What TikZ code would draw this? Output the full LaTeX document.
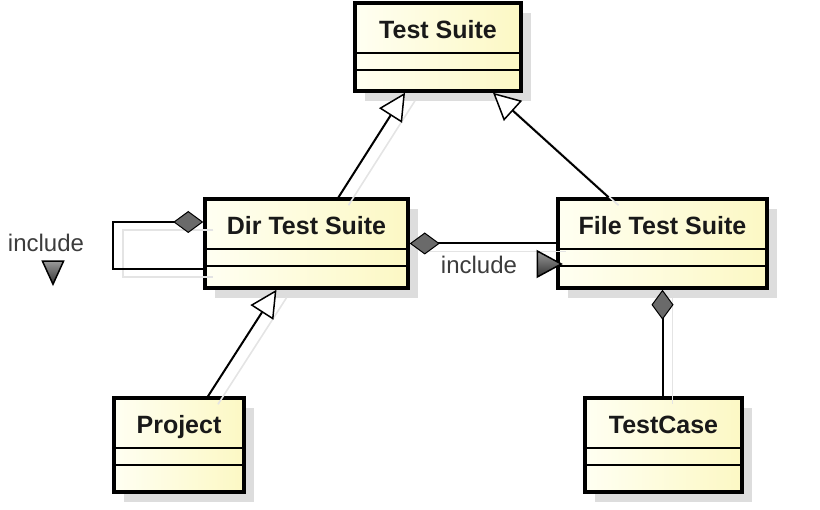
\documentclass[tikz,border=0pt]{standalone}
\usepackage{fontspec}
\setmainfont{Liberation Sans}
\usetikzlibrary{arrows.meta,positioning,shapes.geometric,shadows}
\definecolor{classlight}{HTML}{FFFFF2}
\definecolor{classdark}{HTML}{FCF8C4}
\definecolor{shadowgray}{HTML}{DDDDDD}
\definecolor{lineshadow}{HTML}{E4E4E4}
\definecolor{tipgray}{HTML}{6A6A6A}
\definecolor{labelgray}{HTML}{3C3C3C}

\begin{document}
\begin{tikzpicture}[x=1pt, y=-1pt,
  classbox/.style={draw=black, line width=3.5pt, left color=classlight, right color=classdark,
    inner sep=0pt, drop shadow={shadow xshift=10pt, shadow yshift=-10pt, fill=shadowgray, opacity=1}},
  classname/.style={font=\fontsize{25}{29}\selectfont\bfseries, anchor=base, text=black!90},
  divider/.style={line width=1.5pt},
  cshadow/.style={preaction={draw=lineshadow, line width=1.6pt, -, transform canvas={xshift=10pt, yshift=-8pt}}},
  inherit/.style={cshadow, line width=2pt, -{Triangle[length=27pt, width=27pt, fill=white, line width=1.5pt]}},
  compose/.style={cshadow, line width=2pt, {Diamond[length=30pt, width=22pt, fill=tipgray, line width=1pt]}-},
  assoclabel/.style={font=\fontsize{24}{28}\selectfont, anchor=base, text=labelgray},
  marker/.style={isosceles triangle, isosceles triangle stretches, inner sep=0pt, draw=black,
    line width=1.5pt, top color=black!40, bottom color=black!80}
]
  \useasboundingbox (0,0) rectangle (820,510);

  % classes (border centres measured on the reference)
  \node[classbox, minimum width=166pt, minimum height=88pt] (suite) at (438,47) {};
  \node[classbox, minimum width=203pt, minimum height=89pt] (dir) at (306.5,243.5) {};
  \node[classbox, minimum width=209pt, minimum height=89pt] (file) at (662.5,243.5) {};
  \node[classbox, minimum width=130pt, minimum height=94pt] (project) at (179,445) {};
  \node[classbox, minimum width=157pt, minimum height=94pt] (case) at (663.5,445) {};

  % name compartment and the two empty compartments
  \foreach \c/\t in {suite/Test Suite, dir/Dir Test Suite, file/File Test Suite,
                     project/Project, case/TestCase} {
    \node[classname] (\c-title) at ([yshift=-37pt]\c.north) {\t};
    \draw[divider] ([yshift=-52pt]\c.north west) -- ([yshift=-52pt]\c.north east);
    \draw[divider] ([yshift=-69pt]\c.north west) -- ([yshift=-69pt]\c.north east);
  }

  % generalisations
  \draw[inherit] ([xshift=32pt]dir.north) -- ([xshift=-33pt]suite.south);
  \draw[inherit] ([xshift=-54pt]file.north) -- ([xshift=55pt]suite.south);
  \draw[inherit] ([xshift=29pt]project.north) -- ([xshift=-30pt]dir.south);

  % compositions
  \draw[compose] (file.south) -- (file.south |- case.north);
  \draw[compose] (dir.east) -- (dir.east -| file.west);
  \draw[compose] ([yshift=21.5pt]dir.west) -- ++(-90,0) |- ([yshift=-25.5pt]dir.west);

  % association names with their reading direction
  \node[assoclabel] (loop-incl) at (46,252) {include};
  \node[marker, shape border rotate=270, minimum height=23pt, minimum width=21pt] (loop-dir) at (53,268) {};
  \node[assoclabel] (assoc-incl) at (479,274) {include};
  \node[marker, minimum height=24pt, minimum width=26pt] (assoc-dir) at (545,264) {};
\end{tikzpicture}
\end{document}
